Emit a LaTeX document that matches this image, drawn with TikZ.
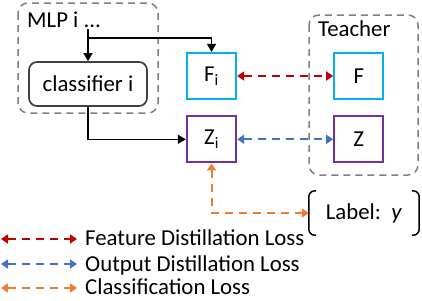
\documentclass[tikz,border=0pt]{standalone}
\usepackage{fontspec}
\setmainfont{Carlito}
\usepackage{tikz}
\usetikzlibrary{positioning, arrows.meta, calc}
\definecolor{featcyan}{HTML}{00B0F0}
\definecolor{outpurple}{HTML}{7030A0}
\definecolor{lossred}{HTML}{C00000}
\definecolor{lossblue}{HTML}{4472C4}
\definecolor{lossorange}{HTML}{ED7D31}
\definecolor{grpgray}{HTML}{7F7F7F}
\definecolor{boxdark}{HTML}{404040}

\begin{document}
\begin{tikzpicture}[
    x=1pt, y=-1pt,
    font=\fontsize{22.8}{26}\selectfont,
    group/.style={draw=grpgray, line width=1.5pt, dash pattern=on 7pt off 5pt, rounded corners=10pt},
    clsbox/.style={draw=boxdark, line width=1.7pt, rectangle, rounded corners=8pt, minimum width=118pt, minimum height=44pt},
    featbox/.style={draw=featcyan, line width=2.3pt, rectangle, minimum width=49pt, minimum height=46pt, inner sep=0pt},
    outbox/.style={draw=outpurple, line width=2.3pt, rectangle, minimum width=49pt, minimum height=46pt, inner sep=0pt},
    flow/.style={line width=1.3pt, -{Triangle[length=8pt, width=9pt]}},
    loss/.style={line width=2pt, dash pattern=on 8pt off 6pt, {Triangle[length=7pt, width=9pt]}-{Triangle[length=7pt, width=9pt]}},
    featloss/.style={loss, draw=lossred},
    outloss/.style={loss, draw=lossblue},
    clsloss/.style={loss, draw=lossorange},
    legtext/.style={anchor=base west, inner sep=0pt},
    bracket/.style={draw=black, line width=1.5pt, rounded corners=6pt}
]
\useasboundingbox (0,0) rectangle (422,300);

% Gruppen
\draw[group] (18,3) rectangle (158,113);
\draw[group] (309,15) rectangle (418,175);
\node[legtext] (mlp) at (27,27) {MLP i ...};
\node[legtext] (teacher) at (318,36) {Teacher};

% Knoten
\node[clsbox] (cls) at (88,84) {classifier i};
\node[featbox] (Fi) at (211.5,76) {F\textsubscript{i}};
\node[outbox, below=15pt of Fi] (Zi) {Z\textsubscript{i}};
\node[featbox, right=96pt of Fi] (F) {F};
\node[outbox, below=15pt of F] (Z) {Z};
\node[minimum width=110pt, minimum height=44pt, inner sep=0pt] (lab) at (364,213) {Label:\ \ \textit{y}};

% Klammern um das Label
\draw[bracket] ([xshift=7pt]lab.north west) -- (lab.north west) -- (lab.south west) -- ([xshift=7pt]lab.south west);
\draw[bracket] ([xshift=-7pt]lab.north east) -- (lab.north east) -- (lab.south east) -- ([xshift=-7pt]lab.south east);

% Kanten
\coordinate (split) at (88,29);
\draw[flow] (split) -- (cls.north);
\draw[flow] (split |- 0,38) -| (Fi.north);
\draw[flow] (cls.south) |- (Zi.west);

% Verluste
\draw[featloss] (Fi.east) -- (F.west);
\draw[outloss] (Zi.east) -- (Z.west);
\draw[clsloss] (Zi.south) |- (lab.west);

% Legende
\draw[featloss] (1,239) -- (77,239);
\draw[outloss] (1,264) -- (77,264);
\draw[clsloss] (1,288) -- (77,288);
\node[legtext] (leg1) at (85,245) {Feature Distillation Loss};
\node[legtext] (leg2) at (85,271) {Output Distillation Loss};
\node[legtext] (leg3) at (85,294) {Classification Loss};

\end{tikzpicture}
\end{document}
